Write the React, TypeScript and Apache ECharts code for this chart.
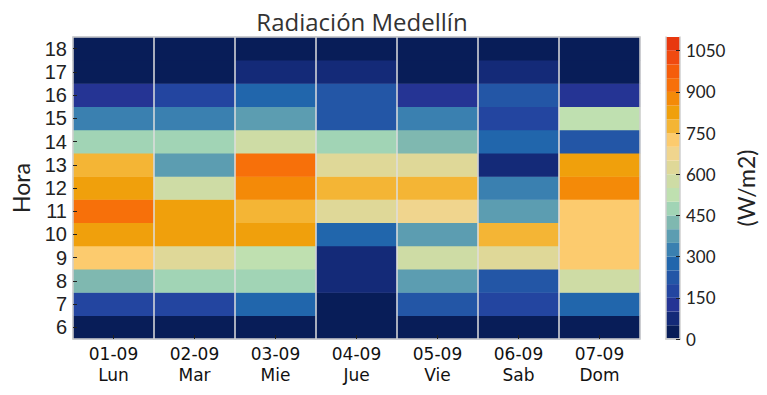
import React, { useEffect, useRef } from "react";
import * as echarts from "echarts";

const days = ["01-09\nLun", "02-09\nMar", "03-09\nMie", "04-09\nJue", "05-09\nVie", "06-09\nSab", "07-09\nDom"];
const hours = ["6", "7", "8", "9", "10", "11", "12", "13", "14", "15", "16", "17", "18"];

// radiation (W/m2) per day, hours 6..18
const lun = [25, 175, 425, 725, 825, 925, 825, 775, 475, 325, 125, 25, 25];
const mar = [25, 175, 475, 625, 825, 825, 575, 375, 475, 325, 175, 25, 25];
const mie = [25, 275, 475, 525, 825, 775, 875, 925, 575, 375, 275, 75, 25];
const jue = [25, 25, 75, 75, 275, 625, 775, 625, 475, 225, 225, 75, 25];
const vie = [25, 225, 375, 575, 375, 675, 775, 625, 425, 325, 125, 25, 25];
const sab = [25, 175, 225, 625, 775, 375, 325, 75, 275, 175, 225, 75, 25];
const dom = [25, 275, 575, 725, 725, 725, 875, 825, 225, 525, 125, 25, 25];
const weekValues = [lun, mar, mie, jue, vie, sab, dom];

const levelStep = 50;
const levelCount = 22;
const levelColors = [
  "#081d58", "#142a78", "#253494", "#2345a0", "#2356a6", "#2166ac",
  "#3a80b0", "#5c9db1", "#7fb8b0", "#a1d4b5", "#bfe0b0", "#cedca5",
  "#dfd898", "#f0d58e", "#fccb6e", "#f4b535", "#f0a00c", "#f48a08",
  "#f7700a", "#f55d0b", "#f04a10", "#e8380f",
];
const colorbarTicks = [0, 150, 300, 450, 600, 750, 900, 1050];

export default function App() {
  const ref = useRef<HTMLDivElement>(null);
  useEffect(() => {
    if (!ref.current) return;
    const chart = echarts.init(ref.current, null, { renderer: "svg" });
    const data: number[][] = [];
    weekValues.forEach((arr, d) => arr.forEach((v, h) => data.push([d, h, v])));
    const pieces = levelColors.map((c, i) => ({ min: i * levelStep, max: (i + 1) * levelStep, color: c }));
    const cbSeries = levelColors.map((c, i) => ({
      type: "bar",
      xAxisIndex: 2,
      yAxisIndex: 2,
      stack: "cb",
      data: [levelStep],
      barWidth: "100%",
      itemStyle: { color: c },
      silent: true,
    }));
    const frame = { show: true, lineStyle: { color: "#cfcfcf", width: 1.5 } };
    const lato = "Lato, 'Open Sans', sans-serif";
    chart.setOption({
      animation: false,
      backgroundColor: "#ffffff",
      title: {
        text: "Radiación Medellín",
        left: 357,
        textAlign: "center",
        top: 4,
        textStyle: { fontFamily: "'Open Sans'", fontSize: 24, fontWeight: "normal", color: "#333" },
      },
      grid: [
        { left: 73, top: 37, width: 567, height: 302 },
        { left: 666, top: 37, width: 14, height: 302 },
      ],
      visualMap: { type: "piecewise", show: false, seriesIndex: 0, pieces },
      xAxis: [
        {
          type: "category",
          data: days,
          gridIndex: 0,
          z: 5,
          axisLine: frame,
          axisTick: { show: true, inside: true, alignWithLabel: true, length: 4, lineStyle: { color: "#222" } },
          axisLabel: { interval: 0, fontFamily: "'DejaVu Sans'", fontSize: 17, color: "#111", lineHeight: 21, margin: 4 },
          splitLine: { show: true, showMinLine: false, showMaxLine: false, lineStyle: { color: "#dedede", width: 1.5 } },
        },
        {
          type: "category",
          data: days,
          gridIndex: 0,
          position: "top",
          z: 5,
          axisLine: frame,
          axisTick: { show: false },
          axisLabel: { show: false },
        },
        {
          type: "category",
          data: ["cb"],
          gridIndex: 1,
          z: 5,
          axisLine: frame,
          axisTick: { show: false },
          axisLabel: { show: false },
        },
        {
          type: "category",
          data: ["cb"],
          gridIndex: 1,
          position: "top",
          z: 5,
          axisLine: frame,
          axisTick: { show: false },
          axisLabel: { show: false },
        },
      ],
      yAxis: [
        {
          type: "category",
          data: hours,
          gridIndex: 0,
          z: 5,
          name: "Hora",
          nameLocation: "middle",
          nameGap: 41,
          nameRotate: 90,
          nameTextStyle: { fontFamily: lato, fontSize: 23, color: "#222" },
          axisLine: frame,
          axisTick: { show: true, inside: true, alignWithLabel: true, interval: 0, length: 4, lineStyle: { color: "#222" } },
          axisLabel: { interval: 0, fontFamily: "'Liberation Sans'", fontSize: 20, lineHeight: 20, color: "#222", margin: 6 },
        },
        {
          type: "category",
          data: hours,
          gridIndex: 0,
          position: "right",
          z: 5,
          axisLine: frame,
          axisTick: { show: false },
          axisLabel: { show: false },
        },
        {
          type: "value",
          gridIndex: 1,
          position: "right",
          min: 0,
          max: levelStep * levelCount,
          interval: 150,
          z: 5,
          name: "(W/m2)",
          nameLocation: "middle",
          nameGap: 54,
          nameRotate: 90,
          nameTextStyle: { fontFamily: lato, fontSize: 23, color: "#222" },
          axisLine: frame,
          axisTick: { show: true, inside: true, length: 4, customValues: colorbarTicks, lineStyle: { color: "#222" } },
          axisLabel: {
            fontFamily: lato,
            fontSize: 17,
            color: "#222",
            margin: 6,
            customValues: colorbarTicks,
            formatter: (v: number) => String(v),
          },
          splitLine: { show: false },
        },
        {
          type: "value",
          gridIndex: 1,
          position: "left",
          min: 0,
          max: levelStep * levelCount,
          z: 5,
          axisLine: frame,
          axisTick: { show: false },
          axisLabel: { show: false },
          splitLine: { show: false },
        },
      ],
      series: [
        {
          type: "heatmap",
          xAxisIndex: 0,
          yAxisIndex: 0,
          data,
          itemStyle: { borderWidth: 0 },
        },
        ...cbSeries,
      ],
    });
    return () => chart.dispose();
  }, []);
  return <div ref={ref} style={{ position: "fixed", left: 0, top: 0, width: 767, height: 395 }} />;
}
